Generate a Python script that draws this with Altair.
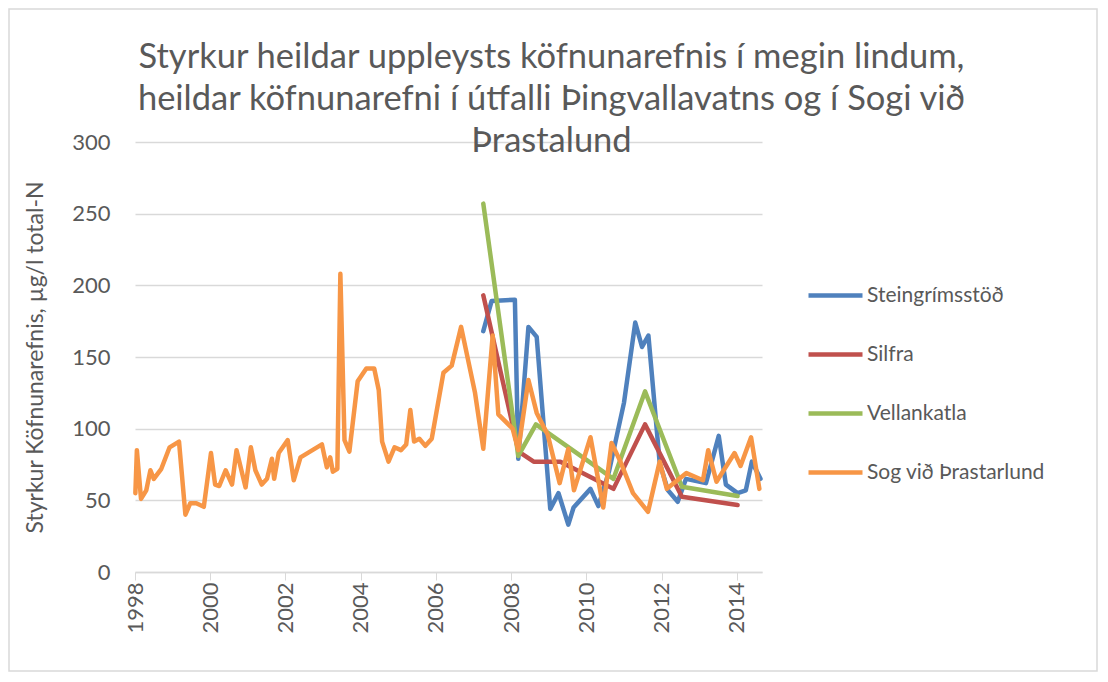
import altair as alt
import pandas as pd

series_names = ["Steingrímsstöð", "Silfra", "Vellankatla", "Sog við Þrastarlund"]
series_colors = ["#4f81bd", "#c0504d", "#9bbb59", "#f79646"]

stein_year = [2007.26, 2007.48, 2008.10, 2008.19, 2008.46, 2008.68, 2009.04, 2009.26,
              2009.52, 2009.66, 2010.11, 2010.32, 2010.60, 2011.00, 2011.30, 2011.48,
              2011.65, 2011.95, 2012.17, 2012.43, 2012.65, 2013.18, 2013.52, 2013.71,
              2014.02, 2014.24, 2014.40, 2014.63]
stein_val = [168, 189, 190, 79, 171, 164, 44, 55,
             33, 45, 58, 46, 70, 118, 174, 157,
             165, 76, 57, 49, 65, 62, 95, 61,
             55, 57, 77, 65]

silfra_year = [2007.26, 2008.20, 2008.60, 2009.31, 2010.72, 2011.56, 2012.54, 2014.02]
silfra_val = [193, 84, 77, 77, 58, 103, 52.5, 46.7]

vell_year = [2007.26, 2008.19, 2008.66, 2010.72, 2011.56, 2012.54, 2014.02]
vell_val = [257, 81, 103, 65, 126, 59.5, 53]

sog_year = [1998.01, 1998.05, 1998.16, 1998.30, 1998.41, 1998.50, 1998.70, 1998.92,
            1999.17, 1999.34, 1999.47, 1999.63, 1999.83, 2000.02, 2000.13, 2000.24,
            2000.41, 2000.58, 2000.70, 2000.94, 2001.08, 2001.20, 2001.37, 2001.51,
            2001.64, 2001.70, 2001.82, 2002.06, 2002.22, 2002.40, 2002.97, 2003.10,
            2003.19, 2003.26, 2003.38, 2003.46, 2003.57, 2003.70, 2003.92, 2004.15,
            2004.36, 2004.48, 2004.57, 2004.74, 2004.90, 2005.07, 2005.21, 2005.32,
            2005.42, 2005.56, 2005.72, 2005.89, 2006.20, 2006.42, 2006.67, 2007.04,
            2007.26, 2007.51, 2007.66, 2008.04, 2008.19, 2008.46, 2008.68, 2008.97,
            2009.29, 2009.52, 2009.67, 2010.11, 2010.45, 2010.67, 2010.89, 2011.24,
            2011.64, 2011.95, 2012.14, 2012.66, 2013.10, 2013.24, 2013.46, 2013.94,
            2014.10, 2014.38, 2014.60]
sog_val = [55, 85, 51, 57, 71, 65, 72, 87,
           91, 40, 48, 48, 45.5, 83, 61, 60,
           71, 61, 85, 59, 87, 71, 61, 65,
           79, 65, 83, 92, 64, 80, 89, 73,
           80, 70, 72, 208, 92, 84, 133, 142,
           142, 127, 91, 77, 87, 85, 89, 113,
           91, 93, 88, 93, 139, 144, 171, 125,
           86, 165, 110, 100, 85, 134, 111, 96,
           62, 86, 57, 94, 45, 90, 78, 55,
           42, 77, 58, 69, 64, 85, 63, 83,
           74, 94, 58]

x_ticks = [1998, 2000, 2002, 2004, 2006, 2008, 2010, 2012, 2014]
y_ticks = [0, 50, 100, 150, 200, 250, 300]

title_lines = ["Styrkur heildar uppleysts köfnunarefnis í megin lindum,",
               "heildar köfnunarefni í útfalli Þingvallavatns og í Sogi við",
               "Þrastalund"]
y_title = "Styrkur Köfnunarefnis, µg/l total-N"

rows = []
for name, yrs, vals in zip(series_names,
                           [stein_year, silfra_year, vell_year, sog_year],
                           [stein_val, silfra_val, vell_val, sog_val]):
    for yv, vv in zip(yrs, vals):
        rows.append({"series": name, "year": yv, "value": vv})
df = pd.DataFrame(rows)

FONT = "Lato"
TXT = "#595959"
GRID = "#d9d9d9"

base = alt.Chart(df).mark_line(strokeWidth=4.5, strokeCap="round", strokeJoin="round").encode(
    x=alt.X("year:Q",
            scale=alt.Scale(domain=[1998, 2014.67], nice=False, zero=False),
            axis=alt.Axis(values=x_ticks, format="d", labelAngle=270, title=None,
                          grid=False, ticks=True, tickSize=8, tickColor=GRID,
                          domainColor=GRID, domainWidth=1.5, labelFontSize=22,
                          labelColor=TXT, labelFont=FONT, labelPadding=2)),
    y=alt.Y("value:Q",
            scale=alt.Scale(domain=[0, 300], nice=False),
            axis=alt.Axis(values=y_ticks, title=y_title, grid=True, gridColor=GRID,
                          gridWidth=1.5, domain=False, ticks=False, labelPadding=25,
                          labelFontSize=22, labelColor=TXT, labelFont=FONT,
                          titleFontSize=23, titleColor=TXT, titleFont=FONT,
                          titleFontWeight="normal", titlePadding=24)),
    color=alt.Color("series:N",
                    scale=alt.Scale(domain=series_names, range=series_colors),
                    legend=alt.Legend(title=None, orient="none", legendX=671, legendY=124,
                                      symbolType="stroke", symbolSize=2916,
                                      symbolStrokeWidth=4.5, labelFontSize=21,
                                      labelColor=TXT, labelFont=FONT, rowPadding=19,
                                      labelOffset=2, labelLimit=300)),
)

layers = [base.transform_filter(alt.datum.series == s) for s in series_names]

frame = alt.Chart(pd.DataFrame({"k": [0]})).mark_rect(
    fillOpacity=0, stroke=GRID, strokeWidth=1.5
).encode(x=alt.value(-126), x2=alt.value(962), y=alt.value(-133), y2=alt.value(529))

chart = alt.layer(frame, *layers).properties(
    width=627,
    height=430,
    background="white",
    title=alt.TitleParams(text=title_lines, fontSize=34.5, font=FONT, fontWeight="normal",
                          color=TXT, anchor="middle", frame="group", dx=103,
                          lineHeight=42, offset=0, dy=185, baseline="bottom"),
    autosize=alt.AutoSizeParams(type="none"),
    padding={"left": 127, "top": 134, "right": 336, "bottom": 102},
).configure_view(stroke=None)

chart.save("out.html", embed_options={"renderer": "svg", "actions": False})
